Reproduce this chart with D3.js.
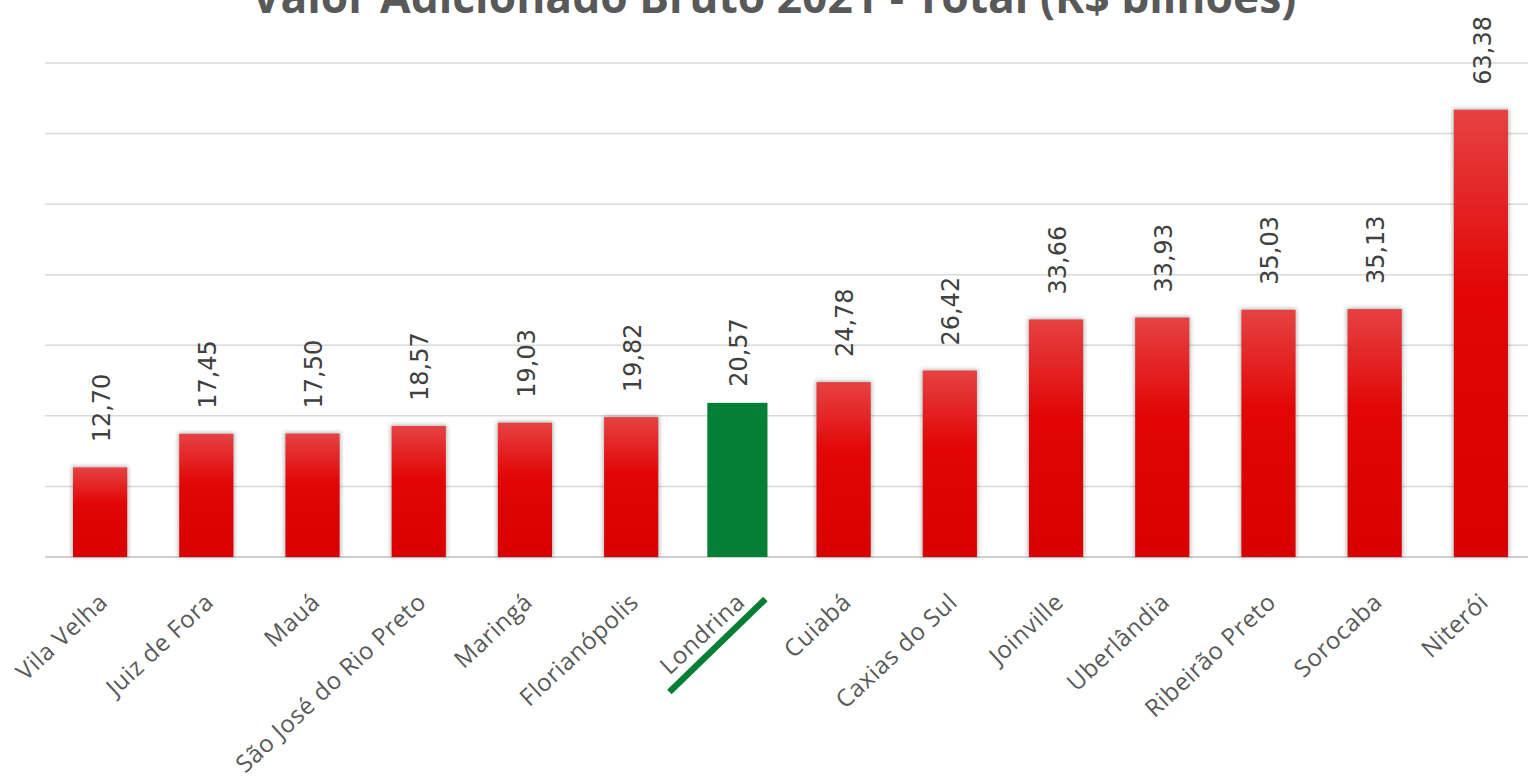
<!DOCTYPE html>
<html>
<head>
<meta charset="utf-8">
<script src="https://cdn.jsdelivr.net/npm/d3@7"></script>
<style>
  html, body { margin: 0; padding: 0; background: #ffffff; }
  svg { display: block; }
</style>
</head>
<body>
<svg id="chart" width="1528" height="778"></svg>
<script>
const categories = ["Vila Velha", "Juiz de Fora", "Mauá", "São José do Rio Preto", "Maringá", "Florianópolis", "Londrina", "Cuiabá", "Caxias do Sul", "Joinville", "Uberlândia", "Ribeirão Preto", "Sorocaba", "Niterói"];
const values = [12.70, 17.45, 17.50, 18.57, 19.03, 19.82, 20.57, 24.78, 26.42, 33.66, 33.93, 35.03, 35.13, 63.38];
const valueLabels = ["12,70", "17,45", "17,50", "18,57", "19,03", "19,82", "20,57", "24,78", "26,42", "33,66", "33,93", "35,03", "35,13", "63,38"];
const yTicks = [0, 10, 20, 30, 40, 50, 60, 70];
const highlighted = "Londrina";
const titleText = "Valor Adicionado Bruto 2021 - Total (R$ bilhões)";

const W = 1528, H = 778;
const svg = d3.select("#chart");

const x = d3.scaleBand().domain(categories).range([47, 1534]).paddingInner(0.49).paddingOuter(0.245);
const y = d3.scaleLinear().domain([0, 70]).range([557, 63]);

const defs = svg.append("defs");
const grad = defs.append("linearGradient").attr("id", "redGrad")
  .attr("gradientUnits", "objectBoundingBox")
  .attr("x1", 0).attr("y1", 0).attr("x2", 0).attr("y2", 1);
grad.append("stop").attr("offset", "0%").attr("stop-color", "#e64242");
grad.append("stop").attr("offset", "40%").attr("stop-color", "#e20606");
grad.append("stop").attr("offset", "100%").attr("stop-color", "#d90000");
const blur = defs.append("filter").attr("id", "blur").attr("x", "-30%").attr("y", "-10%").attr("width", "160%").attr("height", "120%");
blur.append("feGaussianBlur").attr("stdDeviation", 2.2);

// Title (cut off at the top, as in the source image)
const title = svg.append("text")
  .attr("x", 774).attr("y", 13)
  .attr("text-anchor", "middle")
  .attr("font-family", "'Open Sans', sans-serif")
  .attr("font-weight", "bold")
  .attr("font-size", 40)
  .attr("fill", "#595959")
  .text(titleText);
const tl = title.node().getComputedTextLength();
title.attr("font-size", 40 * 1045 / tl);

// Gridlines
svg.append("g").selectAll("line").data(yTicks).join("line")
  .attr("x1", 45).attr("x2", W)
  .attr("y1", d => y(d)).attr("y2", d => y(d))
  .attr("stroke", d => d === 0 ? "#cfcfcf" : "#d9d9d9")
  .attr("stroke-width", d => d === 0 ? 2 : 1.5);

const data = categories.map((c, i) => ({ c, v: values[i], label: valueLabels[i] }));
const redData = data.filter(d => d.c !== highlighted);
const hlData = data.filter(d => d.c === highlighted);

// Bar shadows
svg.append("g").selectAll("rect").data(redData).join("rect")
  .attr("x", d => x(d.c) - 1)
  .attr("width", x.bandwidth() + 2)
  .attr("y", d => y(d.v) - 1)
  .attr("height", d => y(0) - y(d.v) + 1)
  .attr("fill", "#000").attr("opacity", 0.3)
  .attr("filter", "url(#blur)");

// Red bars
svg.append("g").selectAll("rect").data(redData).join("rect")
  .attr("x", d => x(d.c))
  .attr("width", x.bandwidth())
  .attr("y", d => y(d.v))
  .attr("height", d => y(0) - y(d.v))
  .attr("fill", "url(#redGrad)");

// Highlighted bar
const hlPad = 3, hlTop = 9;
svg.append("g").selectAll("rect").data(hlData).join("rect")
  .attr("x", d => x(d.c) - hlPad)
  .attr("width", x.bandwidth() + 2 * hlPad)
  .attr("y", d => y(d.v) - hlTop)
  .attr("height", d => y(0) - y(d.v) + hlTop)
  .attr("fill", "#067f36");

// Value labels
svg.append("g").selectAll("text").data(data).join("text")
  .attr("transform", d => `translate(${x(d.c) + x.bandwidth() / 2 + 1},${y(d.v) - 25}) rotate(-90)`)
  .attr("dy", "0.36em")
  .attr("text-anchor", "start")
  .attr("font-family", "'DejaVu Sans', sans-serif")
  .attr("font-size", 24)
  .attr("fill", "#404040")
  .text(d => d.label);

// Category labels
svg.append("g").selectAll("text").data(data).join("text")
  .attr("transform", d => `translate(${x(d.c) + x.bandwidth() / 2 + 9},${604}) rotate(-43)`)
  .attr("text-anchor", "end")
  .attr("font-family", "'Open Sans', sans-serif")
  .attr("font-size", 24)
  .attr("letter-spacing", 0.6)
  .attr("fill", "#595959")
  .text(d => d.c);

// Highlight underline for Londrina
const hx = x(highlighted) + x.bandwidth() / 2;
svg.append("line")
  .attr("x1", hx - 68).attr("y1", 692)
  .attr("x2", hx + 28).attr("y2", 599)
  .attr("stroke", "#067f36").attr("stroke-width", 6.5);
</script>
</body>
</html>
